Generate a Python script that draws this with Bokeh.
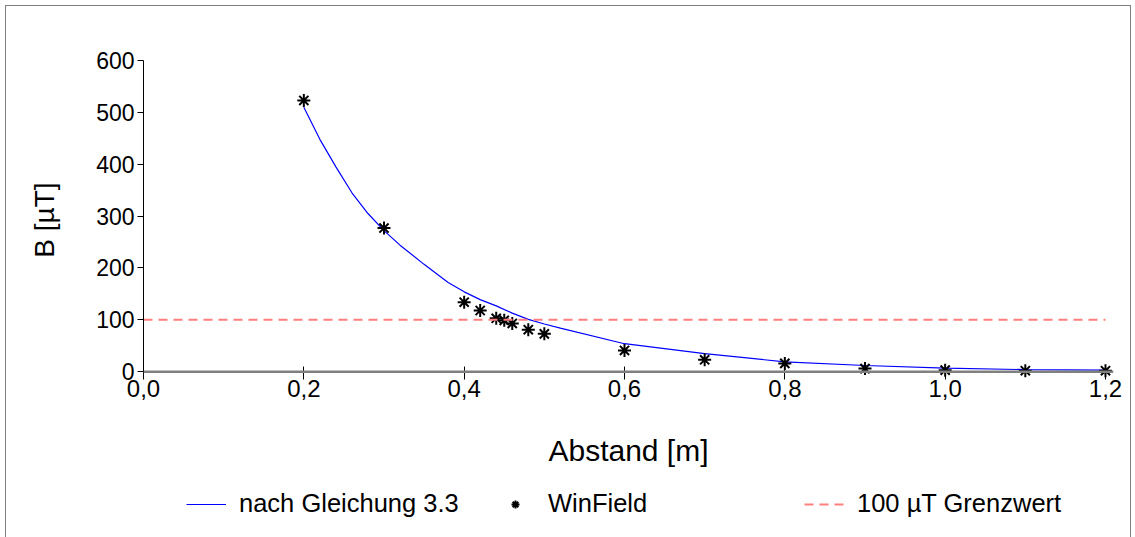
from bokeh.plotting import figure
from bokeh.layouts import column
from bokeh.models import Range1d, FixedTicker, Legend, LegendItem, Span
from bokeh.embed import file_html
from bokeh.resources import INLINE

# ---- data ----
X_CALC = [0.20, 0.22, 0.24, 0.26, 0.28, 0.30, 0.32, 0.35, 0.38, 0.40, 0.42, 0.44,
          0.46, 0.48, 0.50, 0.52, 0.60, 0.70, 0.80, 0.90, 1.00, 1.10, 1.20]
B_CALC = [510, 448, 395, 345, 305, 272, 244, 207, 172, 154, 139, 127,
          113, 101, 92, 84, 54, 35, 19, 12, 7, 4, 3]

X_WF = [0.2, 0.3, 0.4, 0.42, 0.44, 0.45, 0.46, 0.48, 0.5, 0.6, 0.7, 0.8, 0.9, 1.0, 1.1, 1.2]
B_WF = [523, 277, 134, 118, 103, 99, 93, 81, 73, 41, 23, 16, 6, 3, 2, 2]

X_LIMIT = [0.0, 1.2]
B_LIMIT = [100, 100]

X_TICKS = [0.0, 0.2, 0.4, 0.6, 0.8, 1.0, 1.2]
X_TICK_LABELS = ["0,0", "0,2", "0,4", "0,6", "0,8", "1,0", "1,2"]
Y_TICKS = [0, 100, 200, 300, 400, 500, 600]

SERIES_NAMES = ["nach Gleichung 3.3", "WinField", "100 µT Grenzwert"]
X_TITLE = "Abstand [m]"
Y_TITLE = "B [µT]"

FONT = "Liberation Sans"
BLUE = dict(line_color="#0000ff", line_width=1.2)
STAR = dict(marker="asterisk", size=13, line_color="black", line_width=2)
RED = dict(line_color="#ff7f7f", line_width=2, line_dash="9 6")

p = figure(width=1124, height=475,
           x_range=Range1d(0, 1.21), y_range=Range1d(-15, 600),
           output_backend="svg", toolbar_location=None,
           min_border_left=137, min_border_right=17,
           min_border_top=54, min_border_bottom=102)
p.xgrid.visible = False
p.ygrid.visible = False
p.outline_line_color = None
p.background_fill_color = "white"
p.border_fill_color = "white"

# x axis line drawn at B = 0
p.add_layout(Span(location=0, dimension="width", line_color="#808080", line_width=2.5))

p.line(X_CALC, B_CALC, **BLUE)
p.scatter(X_WF, B_WF, **STAR)
p.line(X_LIMIT, B_LIMIT, **RED)

xa = p.xaxis[0]
xa.ticker = FixedTicker(ticks=X_TICKS)
xa.major_label_overrides = {t: l for t, l in zip(X_TICKS, X_TICK_LABELS)}
xa.axis_line_color = None
xa.major_tick_line_color = "black"
xa.major_tick_in = 13
xa.major_tick_out = 0
xa.minor_tick_line_color = None
xa.major_label_text_font = FONT
xa.major_label_text_font_size = "24px"
xa.major_label_text_color = "black"
xa.major_label_standoff = 0
xa.axis_label = X_TITLE
xa.axis_label_text_font = FONT
xa.axis_label_text_font_size = "30px"
xa.axis_label_text_font_style = "normal"
xa.axis_label_text_color = "black"
xa.axis_label_standoff = 34

ya = p.yaxis[0]
ya.ticker = FixedTicker(ticks=Y_TICKS)
ya.bounds = (0, 600)
ya.axis_line_color = "black"
ya.axis_line_width = 1
ya.major_tick_line_color = "black"
ya.major_tick_in = 0
ya.major_tick_out = 6
ya.minor_tick_line_color = None
ya.major_label_text_font = FONT
ya.major_label_text_font_size = "23px"
ya.major_label_text_color = "black"
ya.major_label_standoff = 3
ya.axis_label = Y_TITLE
ya.axis_label_text_font = FONT
ya.axis_label_text_font_size = "28px"
ya.axis_label_text_font_style = "normal"
ya.axis_label_text_color = "black"
ya.axis_label_standoff = 33

# legend strip below the chart (series drawn out of its view, only legend glyphs show)
q = figure(width=1124, height=56, x_range=Range1d(0, 1), y_range=Range1d(-1, 0),
           output_backend="svg", toolbar_location=None,
           min_border_left=0, min_border_right=0, min_border_top=0, min_border_bottom=0)
q.axis.visible = False
q.grid.visible = False
q.outline_line_color = None
q.background_fill_color = "white"
q.border_fill_color = "white"
l1 = q.line(X_CALC, B_CALC, **BLUE)
l2 = q.scatter(X_WF, B_WF, **STAR)
l3 = q.line(X_LIMIT, B_LIMIT, **RED)

legend = Legend(items=[LegendItem(label=SERIES_NAMES[0], renderers=[l1]),
                       LegendItem(label=SERIES_NAMES[1], renderers=[l2]),
                       LegendItem(label=SERIES_NAMES[2], renderers=[l3])],
                orientation="horizontal", location=(43, 19),
                glyph_width=40, glyph_height=20, label_standoff=13,
                label_width=256, spacing=0, padding=0, margin=0,
                border_line_color=None, background_fill_alpha=0,
                label_text_font=FONT, label_text_font_size="25.5px",
                label_text_color="black")
q.add_layout(legend, "center")

layout = column(p, q, spacing=0)
layout.styles = {"margin-left": "5px", "margin-top": "5px", "border": "1px solid #7f7f7f"}

open("out.html", "w").write(file_html(layout, INLINE))
